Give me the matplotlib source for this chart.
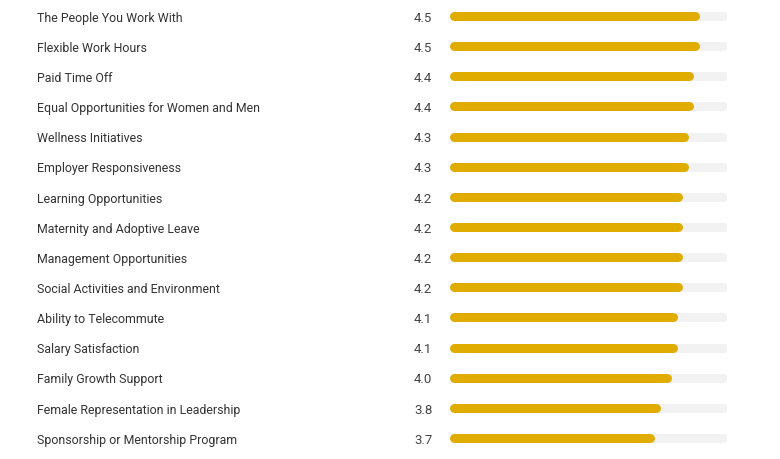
import matplotlib
matplotlib.use("Agg")
import matplotlib.pyplot as plt
from matplotlib.transforms import blended_transform_factory, ScaledTranslation

categories = [
    "The People You Work With",
    "Flexible Work Hours",
    "Paid Time Off",
    "Equal Opportunities for Women and Men",
    "Wellness Initiatives",
    "Employer Responsiveness",
    "Learning Opportunities",
    "Maternity and Adoptive Leave",
    "Management Opportunities",
    "Social Activities and Environment",
    "Ability to Telecommute",
    "Salary Satisfaction",
    "Family Growth Support",
    "Female Representation in Leadership",
    "Sponsorship or Mentorship Program",
]
values = [4.5, 4.5, 4.4, 4.4, 4.3, 4.3, 4.2, 4.2, 4.2, 4.2, 4.1, 4.1, 4.0, 3.8, 3.7]
max_value = 5.0

W, H = 780, 460
fig = plt.figure(figsize=(W / 100, H / 100), dpi=100)
fig.patch.set_facecolor("white")

track_left, track_right = 450, 727
ax = fig.add_axes([track_left / W, 0, (track_right - track_left) / W, 1])
ax.set_xlim(0, max_value)
row0, rowN = 17, 439
n = len(categories)
step = (rowN - row0) / (n - 1)
ax.set_ylim(n - 1 + (H - rowN) / step, -row0 / step)
ax.axis("off")

bar_px = 9
lw_pt = bar_px * 72 / 100
r = (bar_px / 2) * max_value / (track_right - track_left)

fill_color = "#E0AC00"
track_color = "#F2F2F2"

for i, (cat, v) in enumerate(zip(categories, values)):
    ax.plot([r, max_value - r], [i, i], color=track_color, lw=lw_pt,
            solid_capstyle="round", zorder=1)
    ax.plot([r, v - r], [i, i], color=fill_color, lw=lw_pt,
            solid_capstyle="round", zorder=2)

trans = blended_transform_factory(fig.transFigure, ax.transData) + \
    ScaledTranslation(0, -1.2 / 100, fig.dpi_scale_trans)
for i, (cat, v) in enumerate(zip(categories, values)):
    fig.text(37 / W, i, cat, transform=trans, ha="left", va="center",
             fontsize=8.9, family="Roboto", color="#333333")
    fig.text(414 / W, i, f"{v:.1f}", transform=trans, ha="left", va="center",
             fontsize=9.5, family="Roboto", color="#444444")

fig.savefig("out.png", dpi=100)
